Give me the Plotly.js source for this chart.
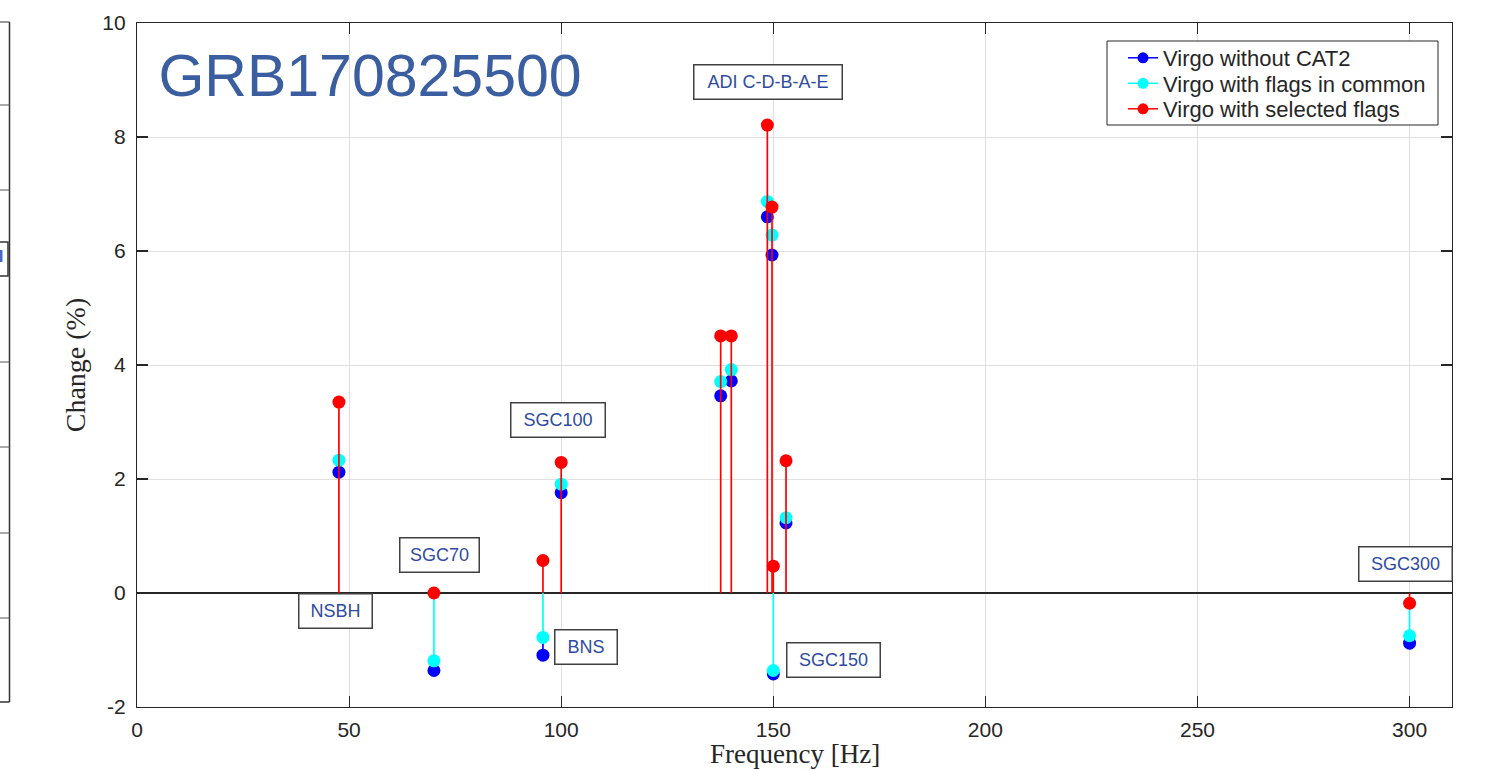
<!DOCTYPE html>
<html>
<head>
<meta charset="utf-8">
<script src="https://cdn.plot.ly/plotly-3.0.1.min.js"></script>
<style>html,body{margin:0;padding:0;background:#fff;}#chart{width:1490px;height:770px;}</style>
</head>
<body>
<div id="chart"></div>
<script>
// ---- data ----
const frequencies = [47.6, 70, 95.7, 100, 137.6, 140.1, 148.6, 149.7, 150.0, 153.0, 300];
const withoutCat2 = [2.12, -1.36, -1.09, 1.76, 3.46, 3.72, 6.60, 5.93, -1.42, 1.23, -0.88];
const flagsInCommon = [2.33, -1.19, -0.78, 1.91, 3.71, 3.92, 6.87, 6.28, -1.36, 1.32, -0.75];
const selectedFlags = [3.35, 0.00, 0.57, 2.29, 4.51, 4.51, 8.21, 6.77, 0.47, 2.32, -0.18];
const seriesNames = ['Virgo without CAT2', 'Virgo with flags in common', 'Virgo with selected flags'];
const labelTexts = ['ADI C-D-B-A-E', 'SGC100', 'SGC70', 'NSBH', 'BNS', 'SGC150', 'SGC300'];
const labelX = [148.75, 99.25, 71.3, 46.8, 105.8, 164.1, 299.0];
const labelY = [8.96, 3.04, 0.66, -0.31, -0.94, -1.18, 0.51];
const yTickVals = [-2, 0, 2, 4, 6, 8, 10];
const yTickText = ['-2', '0', '2', '4', '6', '8', '10'];
const plotTitle = 'GRB170825500';
const xTitle = 'Frequency [Hz]';
const yTitle = 'Change (%)';

// ---- styling ----
const colors = ['#0000ff', '#00ffff', '#ff0000'];
const labelW = [150, 96, 81, 75, 64, 95, 95];
const labelH = 36;
const legendRowsPx = [58, 83.5, 109];   // pixel rows of the legend entries
const legendIds = ['legend', 'legend2', 'legend3'];

const allSeries = [withoutCat2, flagsInCommon, selectedFlags];

// stems: draw only the part of each stem not hidden by the stems drawn after it
function visibleStems(k) {
  const sx = [], sy = [];
  frequencies.forEach((f, i) => {
    let lo = 0, hi = 0;
    for (let j = k + 1; j < allSeries.length; j++) {
      lo = Math.min(lo, allSeries[j][i]);
      hi = Math.max(hi, allSeries[j][i]);
    }
    const v = allSeries[k][i];
    if (v > hi) { sx.push(f, f, null); sy.push(hi, v, null); }
    if (v < lo) { sx.push(f, f, null); sy.push(lo, v, null); }
  });
  return {sx, sy};
}

const traces = [];
// legend entries (one legend each so the row spacing can match)
allSeries.forEach((s, k) => {
  traces.push({
    x: [null], y: [null], type: 'scatter', mode: 'lines+markers', name: seriesNames[k],
    line: {color: colors[k], width: 1.5}, marker: {color: colors[k], size: 11},
    showlegend: true, hoverinfo: 'skip', legend: legendIds[k]
  });
});
allSeries.forEach((s, k) => {
  const st = visibleStems(k);
  traces.push({
    x: st.sx, y: st.sy, type: 'scatter', mode: 'lines', showlegend: false,
    line: {color: colors[k], width: 1.7}, hoverinfo: 'skip', cliponaxis: false
  });
  traces.push({
    x: frequencies, y: s, type: 'scatter', mode: 'markers', showlegend: false,
    marker: {color: colors[k], size: 13}, name: seriesNames[k], cliponaxis: false
  });
});

const annotations = labelTexts.map((t, i) => ({
  x: labelX[i], y: labelY[i], xref: 'x', yref: 'y', text: t, showarrow: false,
  xanchor: 'center', yanchor: 'middle',
  font: {family: 'Liberation Sans, Arial, sans-serif', size: 18, color: '#2f4b9f'},
  bgcolor: '#ffffff', bordercolor: '#404040', borderwidth: 1.5, borderpad: 1,
  width: labelW[i] - 5, height: labelH - 5
}));

// paper coordinate helpers
const px = v => (v - 137) / 1315;
const py = v => (707 - v) / 684;

// x-axis title
annotations.push({
  x: 0.5, y: py(754), xref: 'paper', yref: 'paper', text: xTitle, showarrow: false,
  xanchor: 'center', yanchor: 'middle',
  font: {family: 'Liberation Serif, Times New Roman, serif', size: 27, color: '#262626'}
});

const shapes = [];
// legend frame
shapes.push({type: 'rect', xref: 'paper', yref: 'paper', layer: 'above',
  x0: px(1107), x1: px(1438), y0: py(125), y1: py(41),
  line: {color: '#262626', width: 1}, fillcolor: '#ffffff'});
// partial neighbouring panel at the very left edge
shapes.push({type: 'line', xref: 'paper', yref: 'paper', x0: px(9.5), x1: px(9.5), y0: py(22), y1: py(702), line: {color: '#333', width: 1.5}});
shapes.push({type: 'line', xref: 'paper', yref: 'paper', x0: px(-5), x1: px(9.5), y0: py(22), y1: py(22), line: {color: '#333', width: 1}});
shapes.push({type: 'line', xref: 'paper', yref: 'paper', x0: px(-5), x1: px(9.5), y0: py(702), y1: py(702), line: {color: '#333', width: 1.5}});
[105, 190, 362, 447, 533, 618].forEach(yy => {
  shapes.push({type: 'line', xref: 'paper', yref: 'paper', x0: px(-5), x1: px(9.5), y0: py(yy), y1: py(yy), line: {color: '#555', width: 1}});
});
shapes.push({type: 'rect', xref: 'paper', yref: 'paper', x0: px(-5), x1: px(8), y0: py(276), y1: py(242), line: {color: '#333', width: 1.5}, fillcolor: 'rgba(0,0,0,0)'});
shapes.push({type: 'rect', xref: 'paper', yref: 'paper', x0: px(0), x1: px(2.5), y0: py(262), y1: py(250), line: {width: 0}, fillcolor: '#4a6acb'});

const axisFont = {family: 'Liberation Sans, Arial, sans-serif', size: 21, color: '#262626'};
const layout = {
  width: 1490, height: 770,
  margin: {l: 137, r: 38, t: 23, b: 63, pad: 0},
  paper_bgcolor: '#ffffff', plot_bgcolor: '#ffffff',
  showlegend: true,
  title: {
    text: plotTitle, x: 370 / 1490, y: 1 - 75 / 770, xanchor: 'center', yanchor: 'middle',
    xref: 'container', yref: 'container',
    font: {family: 'Liberation Sans, Arial, sans-serif', size: 59, color: '#3a5e9f'}
  },
  xaxis: {
    range: [0, 310], dtick: 50, tick0: 0, autorange: false,
    showgrid: true, gridcolor: '#dfdfdf', gridwidth: 1,
    zeroline: false, showline: true, linecolor: '#262626', linewidth: 1.2, mirror: 'ticks',
    ticks: 'inside', ticklen: 11, tickcolor: '#262626', tickwidth: 1.2,
    tickfont: axisFont, ticklabelstandoff: 4
  },
  yaxis: {
    range: [-2, 10], tickmode: 'array', tickvals: yTickVals, ticktext: yTickText, autorange: false,
    showgrid: true, gridcolor: '#dfdfdf', gridwidth: 1,
    zeroline: true, zerolinecolor: '#262626', zerolinewidth: 1.2,
    showline: true, linecolor: '#262626', linewidth: 1.2, mirror: 'ticks',
    ticks: 'inside', ticklen: 11, tickcolor: '#262626', tickwidth: 1.2,
    tickfont: axisFont, ticklabelstandoff: 6,
    title: {text: yTitle, standoff: 8,
      font: {family: 'Liberation Serif, Times New Roman, serif', size: 28, color: '#262626'}}
  },
  annotations: annotations,
  shapes: shapes
};
legendIds.forEach((id, k) => {
  layout[id] = {
    x: px(1123), y: py(legendRowsPx[k]), xanchor: 'left', yanchor: 'middle',
    bgcolor: 'rgba(0,0,0,0)', borderwidth: 0,
    font: {family: 'Liberation Sans, Arial, sans-serif', size: 22, color: '#262626'}
  };
});

Plotly.newPlot('chart', traces, layout, {displayModeBar: false, staticPlot: true});
</script>
</body>
</html>
